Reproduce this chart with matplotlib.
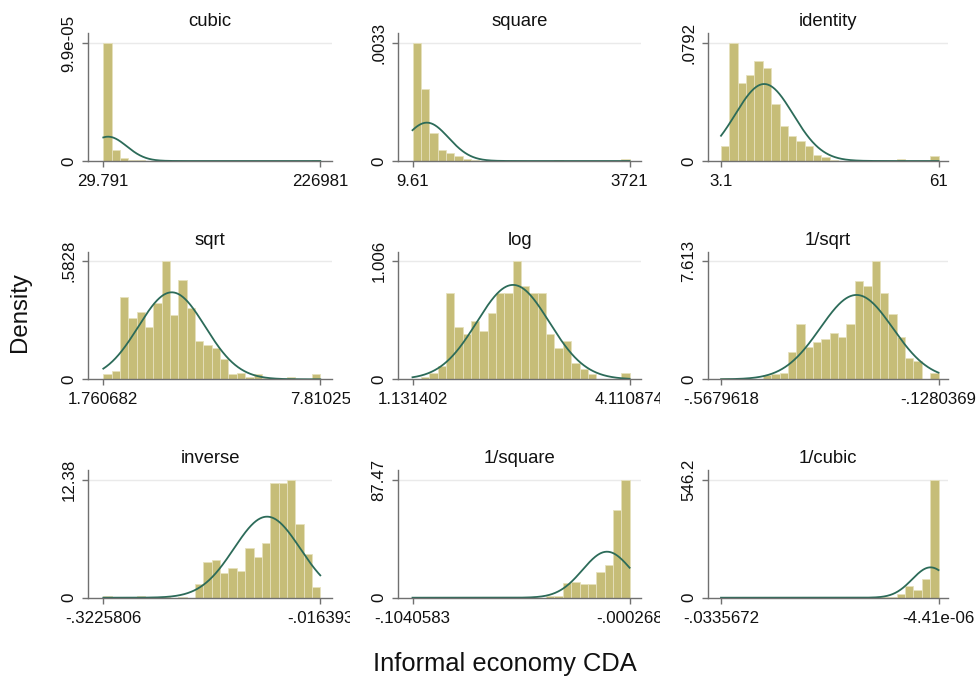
import numpy as np
import matplotlib
matplotlib.use("Agg")
import matplotlib.pyplot as plt
from matplotlib.transforms import Bbox, TransformedBbox

plt.rcParams['font.family'] = ['Liberation Sans', 'DejaVu Sans']

# ---------------------------------------------------------------------------
# Ladder of powers for the informal economy estimate (CDA method)
# ---------------------------------------------------------------------------
panel_titles = ["cubic", "square", "identity",
                "sqrt", "log", "1/sqrt",
                "inverse", "1/square", "1/cubic"]

x_min = [29.791, 9.61, 3.1,
         1.760682, 1.131402, -.5679618,
         -.3225806, -.1040583, -.0335672]
x_max = [226981, 3721, 61,
         7.81025, 4.110874, -.1280369,
         -.016393, -.000268, -4.41e-06]
x_tick_labels = [["29.791", "226981"], ["9.61", "3721"], ["3.1", "61"],
                 ["1.760682", "7.81025"], ["1.131402", "4.110874"], ["-.5679618", "-.1280369"],
                 ["-.3225806", "-.016393"], ["-.1040583", "-.000268"], ["-.0335672", "-4.41e-06"]]

y_max = [9.9e-05, .0033, .0792,
         .5828, 1.006, 7.613,
         12.38, 87.47, 546.2]
y_tick_labels = ["9.9e-05", ".0033", ".0792",
                 ".5828", "1.006", "7.613",
                 "12.38", "87.47", "546.2"]

# histogram densities, 26 equal-width bins from x_min to x_max
cubic_density = [9.9e-05, 9.3e-06, 2.8e-06, 1.0e-06, 5e-07, 3e-07, 1e-07, 0, 0, 0,
                 0, 0, 0, 0, 3e-07, 0, 0, 0, 0, 0,
                 0, 0, 0, 0, 0, 9e-07]
square_density = [.0033, .00201, .000795, .000309, .000234, .00014, .00005, .00002, 0, 0,
                  0, 0, 0, 0, 0, 0, 0, .000018, 0, 0,
                  0, 0, 0, 0, 0, .000053]
identity_density = [.0103, .0792, .0523, .0579, .0673, .0624, .0381, .0236, .0168, .0137,
                    .0103, .0040, .0029, .0010, 0, 0, 0, 0, 0, 0,
                    0, .0016, 0, 0, 0, .0034]
sqrt_density = [.0246, .041, .404, .300, .333, .256, .374, .5828, .317, .489,
                .350, .189, .169, .153, .0985, .0246, .0328, .013, .0246, .005,
                0, 0, .013, 0, 0, .026]
log_density = [.005, .017, .051, .113, .737, .442, .383, .499, .414, .561,
               .737, .737, 1.006, .793, .737, .737, .383, .269, .326, .142,
               .085, .0425, .005, 0, 0, .057]
inv_sqrt_density = [.08, 0, .1, 0, .05, .28, .34, .39, 1.78, 3.56,
                    2.06, 2.38, 2.57, 2.96, 2.74, 3.56, 6.35, 6.00, 7.613, 5.58,
                    4.18, 2.74, 1.35, 1.20, 0, .386]
inverse_density = [.17, 0, 0, 0, .17, 0, 0, .1, 0, .1,
                   0, 1.40, 3.72, 4.0, 2.56, 3.16, 2.81, 5.19, 4.24, 5.72,
                   12.1, 12.1, 12.38, 7.72, 4.56, 1.16]
inv_square_density = [.3, 0, 0, 0, 0, 0, 0, 0, 0, 0,
                      0, .3, 0, .5, 0, 0, 1.0, 1.5, 10.65, 11.9,
                      9.91, 9.91, 19.08, 24.3, 65.2, 87.47]
inv_cubic_density = [.5, 0, 0, 0, 0, 0, 0, 0, 0, 0,
                     0, 0, 0, 0, 0, 0, 0, 1.5, 0, 3.0,
                     5.0, 15.5, 54.2, 35.6, 85.1, 546.2]

densities = [cubic_density, square_density, identity_density,
             sqrt_density, log_density, inv_sqrt_density,
             inverse_density, inv_square_density, inv_cubic_density]

# mean and standard deviation of each transformed variable (normal overlay)
normal_mean = [5000, 255, 14.6,
               3.669, 2.511, -.2939,
               -.0915, -.01108, -.00124]
normal_sd = [19500, 371, 7.7,
             .931, .497, .0735,
             .0468, .01167, .002833]

# ---------------------------------------------------------------------------
W, H = 980, 681
fig = plt.figure(figsize=(W / 100, H / 100), dpi=100)
fig.patch.set_facecolor("white")

bar_color = "#c6bd78"
bar_edge = "#e6e1bd"
curve_color = "#2c6b59"
axis_color = "#707070"

# panel geometry in pixels
col_left = [88.3, 398.3, 708.0]
col_right = [332.0, 641.0, 948.0]
col_tick_lo = [103.3, 412.5, 721.0]
col_tick_hi = [320.3, 629.6, 938.5]
col_clip = [350, 660, 980]
row_zero = [161.0, 379.3, 597.7]
row_top = [33.0, 251.7, 470.0]
row_max = [43.3, 261.0, 480.0]

tick_fs = 12.2
title_fs = 13.3

for i, title in enumerate(panel_titles):
    r, c = divmod(i, 3)
    L, R = col_left[c], col_right[c]
    zero, top = row_zero[r], row_top[r]
    ax = fig.add_axes([L / W, 1 - zero / H, (R - L) / W, (zero - top) / H])

    lo, hi = x_min[i], x_max[i]
    span = hi - lo
    span_px = col_tick_hi[c] - col_tick_lo[c]
    ax.set_xlim(lo - (col_tick_lo[c] - L) / span_px * span,
                hi + (R - col_tick_hi[c]) / span_px * span)
    ax.set_ylim(0, y_max[i] * (zero - top) / (zero - row_max[r]))

    dens = np.asarray(densities[i], dtype=float)
    edges = np.linspace(lo, hi, len(dens) + 1)
    keep = dens > 0
    ax.bar(edges[:-1][keep], dens[keep], width=np.diff(edges)[keep], align="edge",
           color=bar_color, edgecolor=bar_edge, linewidth=0.6, zorder=2)

    xs = np.linspace(lo, hi, 500)
    mu, sd = normal_mean[i], normal_sd[i]
    pdf = np.exp(-0.5 * ((xs - mu) / sd) ** 2) / (sd * np.sqrt(2 * np.pi))
    ax.plot(xs, pdf, color=curve_color, linewidth=1.3, zorder=3)

    ax.axhline(y_max[i], color="#eaeaea", linewidth=1.0, zorder=1)

    for side in ("top", "right"):
        ax.spines[side].set_visible(False)
    for side in ("left", "bottom"):
        ax.spines[side].set_color(axis_color)
        ax.spines[side].set_linewidth(1.0)
        ax.spines[side].set_zorder(4)

    ax.set_xticks([lo, hi], x_tick_labels[i])
    ax.set_yticks([0, y_max[i]], ["0", y_tick_labels[i]])
    ax.tick_params(axis="both", length=4.3, width=1.0, color=axis_color,
                   labelsize=tick_fs, labelcolor="#111111")
    ax.tick_params(axis="x", pad=5)
    ax.tick_params(axis="y", pad=4.3)
    for lab in ax.get_yticklabels():
        lab.set_rotation(90)
        lab.set_va("center")

    clip = TransformedBbox(Bbox.from_extents(0, 0, col_clip[c] / W, 1), fig.transFigure)
    for lab in ax.get_xticklabels():
        lab.set_clip_on(True)
        lab.set_clip_box(clip)

    ax.set_title(title, fontsize=title_fs, pad=5, color="#111111")

fig.text(20 / W, 1 - 312 / H, "Density", rotation=90, ha="center", va="center",
         fontsize=17.3, color="#111111")
fig.text(505 / W, 1 - 664 / H, "Informal economy CDA", ha="center", va="center",
         fontsize=18.4, color="#111111")

fig.savefig("out.png", dpi=100, facecolor="white")
